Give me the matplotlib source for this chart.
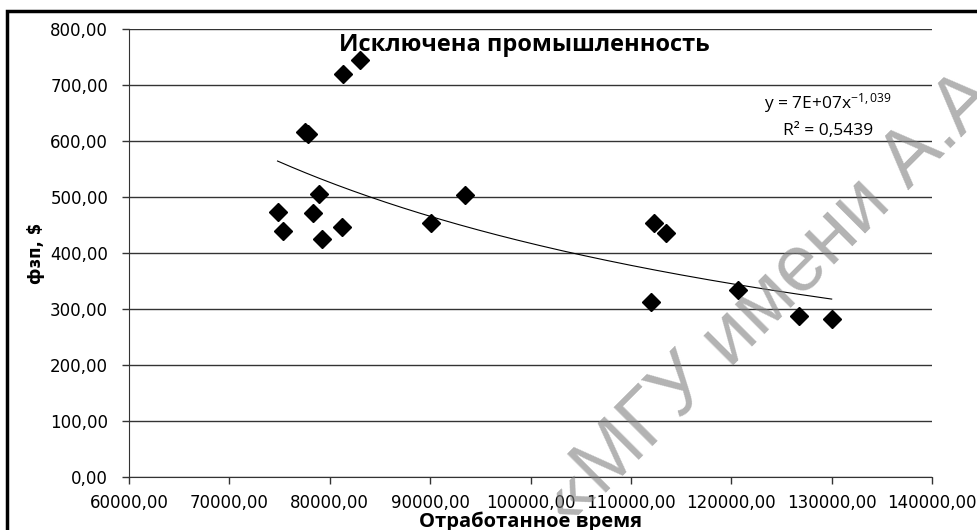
import numpy as np
import matplotlib.pyplot as plt
from matplotlib.patches import Rectangle

# data
hours = [74800, 75350, 77550, 77850, 78300, 78900, 79200, 81250, 81350, 83050,
         90100, 93450, 112000, 112350, 113500, 120650, 126700, 130000]
wage = [474, 440, 616, 612, 471, 505, 425, 446, 720, 745,
        453, 503, 313, 453, 435, 334, 287, 282]

# power trendline y = a*x^b
trend_a = 6.54e7
trend_b = -1.039

x_ticks = np.arange(60000, 140001, 10000)
y_ticks = np.arange(0, 801, 100)

def fmt(v):
    return ("%.2f" % v).replace(".", ",")

plt.rcParams['font.family'] = ['DejaVu Sans']
plt.rcParams['mathtext.default'] = 'regular'

fig = plt.figure(figsize=(9.77, 5.30), dpi=100)
ax = fig.add_axes([0.132, 0.1, 0.822, 0.845])

x_fit = np.linspace(min(hours), max(hours), 200)
ax.plot(x_fit, trend_a*x_fit**trend_b, color="black", lw=0.8, zorder=2)
ax.plot(hours, wage, "D", color="black", ms=9, zorder=3)

ax.set_xlim(60000, 140000)
ax.set_ylim(0, 800)
ax.set_xticks(x_ticks)
ax.set_yticks(y_ticks)
ax.set_xticklabels([fmt(v) for v in x_ticks], fontsize=12)
ax.set_yticklabels([fmt(v) for v in y_ticks], fontsize=12)
ax.tick_params(direction="out", length=5, width=1, colors="#333333", labelcolor="black")
ax.tick_params(axis="y", pad=10)
ax.tick_params(axis="x", pad=7)
ax.yaxis.grid(True, color="#333333", lw=1)
ax.set_axisbelow(True)
for s in ["top", "right"]:
    ax.spines[s].set_visible(False)
ax.spines["left"].set_color("#333333")
ax.spines["bottom"].set_color("#333333")

ax.set_ylabel("фзп, $", fontsize=12, fontweight="bold", labelpad=4)
ax.set_xlabel("Отработанное время", fontsize=14.5, fontweight="bold", family="Open Sans", labelpad=0)

fig.text(0.537, 0.916, "Исключена промышленность", fontsize=17, fontweight="bold",
         family="Open Sans", ha="center", va="center")

ax.text(0.87, 0.835, "y = 7E+07x$^{-1,039}$", transform=ax.transAxes, fontsize=12.5,
        family="Open Sans", ha="center", va="center")
ax.text(0.87, 0.772, "R² = 0,5439", transform=ax.transAxes, fontsize=12.5,
        family="Open Sans", ha="center", va="center")

# outer chart frame
fig.patches.append(Rectangle((7/977, -0.1), 1.2, 1.1 - 11/530, transform=fig.transFigure,
                             fill=False, edgecolor="black", lw=2.5))

# watermark
wm_x = 602/977
wm_y = 1 - 497/530
fig.text(wm_x, wm_y, "МГУ имени А.А. Кулешова", fontsize=57, color="#808080",
         alpha=0.6, rotation=45, rotation_mode="anchor", ha="left", va="baseline",
         family="Liberation Sans", zorder=10)
fig.text(wm_x, wm_y, "«", fontsize=57, color="#808080",
         alpha=0.6, rotation=45, rotation_mode="anchor", ha="right", va="baseline",
         family="Liberation Sans", zorder=10)

fig.savefig("out.png", dpi=100)
